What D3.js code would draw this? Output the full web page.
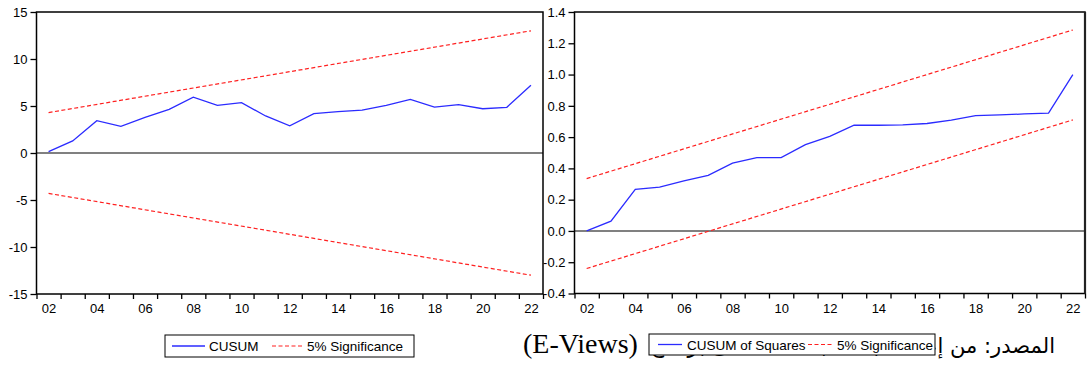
<!DOCTYPE html>
<html><head><meta charset="utf-8">
<script src="https://cdn.jsdelivr.net/npm/d3@7"></script>
<style>
body{margin:0;background:#fff;}
svg{display:block;}
text{font-family:"Liberation Sans",Arial,sans-serif;fill:#000;}
</style></head>
<body>
<svg id="c" width="1089" height="365"></svg>
<script>
const years = d3.range(2002, 2023);
const cusum = [0.15,1.28,3.44,2.84,3.78,4.65,5.93,5.07,5.35,3.94,2.9,4.18,4.4,4.57,5.07,5.71,4.89,5.14,4.71,4.86,7.2];
const cusumUpper = [[2002,4.3],[2022,13.0]];
const cusumLower = [[2002,-4.3],[2022,-13.0]];
const cusumsq = [0.0,0.063,0.266,0.28,0.32,0.356,0.434,0.469,0.469,0.552,0.605,0.676,0.676,0.678,0.687,0.708,0.738,0.742,0.748,0.753,1.0];
const sqUpper = [[2002,0.335],[2022,1.285]];
const sqLower = [[2002,-0.24],[2022,0.71]];
const leftYTicks = [-15,-10,-5,0,5,10,15];
const rightYTicks = [-0.4,-0.2,0.0,0.2,0.4,0.6,0.8,1.0,1.2,1.4];
const xLabelYears = [2002,2004,2006,2008,2010,2012,2014,2016,2018,2020,2022];
const legendLeft = ["CUSUM","5% Significance"];
const legendRight = ["CUSUM of Squares","5% Significance"];
const sourceAr = "المصدر: من إعداد الباحث بالاعتماد على برنامج";
const sourceEn = "(E-Views)";

const svg = d3.select("#c");
const BLUE = "#2b2bff", RED = "#ff2020";

function panel(o){
  const g = svg.append("g");
  const x = d3.scaleLinear().domain([2001.5, 2022.5]).range([o.x0, o.x1]);
  const y = d3.scaleLinear().domain(o.ydom).range([o.y1, o.y0]);
  g.append("line").attr("x1",o.x0).attr("x2",o.x1).attr("y1",y(0)).attr("y2",y(0))
    .attr("stroke","#808080").attr("stroke-width",2);
  const line = d3.line().x(d=>x(d[0])).y(d=>y(d[1]));
  [o.upper,o.lower].forEach(b=>{
    g.append("path").attr("d",line(b)).attr("fill","none").attr("stroke",RED)
      .attr("stroke-width",1.2).attr("stroke-dasharray","4,2.5");
  });
  g.append("path").attr("d",line(years.map((yr,i)=>[yr,o.vals[i]])))
    .attr("fill","none").attr("stroke",BLUE).attr("stroke-width",1.3);
  g.append("rect").attr("x",o.x0).attr("y",o.y0).attr("width",o.x1-o.x0).attr("height",o.y1-o.y0)
    .attr("fill","none").attr("stroke","#000").attr("stroke-width",1.5);
  if(o.thickRight){
    g.append("line").attr("x1",o.x1).attr("x2",o.x1).attr("y1",o.y0).attr("y2",o.y1)
      .attr("stroke","#222").attr("stroke-width",2.2);
  }
  const ya = g.append("g").attr("transform",`translate(${o.x0},0)`)
    .call(d3.axisLeft(y).tickValues(o.yticks).tickSize(6).tickPadding(3).tickFormat(o.fmt));
  ya.select(".domain").remove();
  ya.selectAll("line").attr("stroke","#000").attr("stroke-width",1.3);
  ya.selectAll("text").attr("font-size",13).attr("font-family","Liberation Sans, Arial, sans-serif").attr("fill","#000");
  const xa = g.append("g").attr("transform",`translate(0,${o.y1})`)
    .call(d3.axisBottom(x).tickValues(d3.range(2001.5,2023,1)).tickSize(5).tickFormat(""));
  xa.select(".domain").remove();
  xa.selectAll("line").attr("stroke","#000").attr("stroke-width",1.3);
  const xl = g.append("g").attr("transform",`translate(0,${o.y1})`)
    .call(d3.axisBottom(x).tickValues(xLabelYears).tickSize(0).tickPadding(10)
      .tickFormat(d=>String(d%100).padStart(2,"0")));
  xl.select(".domain").remove();
  xl.selectAll("text").attr("font-size",13).attr("font-family","Liberation Sans, Arial, sans-serif").attr("fill","#000");
}

panel({x0:36.5,x1:543,y0:12,y1:294,ydom:[-15,15],vals:cusum,upper:cusumUpper,lower:cusumLower,
  yticks:leftYTicks,fmt:d=>String(d)});
panel({x0:574.5,x1:1085,y0:12,y1:293.5,ydom:[-0.4,1.4],vals:cusumsq,upper:sqUpper,lower:sqLower,
  yticks:rightYTicks,fmt:d=>d3.format(".1f")(d).replace("−","-"),thickRight:true});

// source text
const ar = svg.append("text").attr("x",1055).attr("y",353).attr("text-anchor","end")
  .style("font-family","'DejaVu Sans',sans-serif").attr("font-size",26).text(sourceAr);
const w = ar.node().getComputedTextLength();
const maxW = 405;
if (w > maxW) ar.attr("font-size", 26*maxW/w);
svg.append("text").attr("x",523).attr("y",353)
  .style("font-family","'Liberation Serif','Times New Roman',serif").attr("font-size",28).text(sourceEn);

function legend(o){
  const g = svg.append("g");
  g.append("rect").attr("x",o.x).attr("y",o.y).attr("width",o.w).attr("height",o.h)
    .attr("fill","#fff").attr("stroke","#000").attr("stroke-width",1);
  const cy = o.y + o.h/2;
  g.append("line").attr("x1",o.l1[0]).attr("x2",o.l1[1]).attr("y1",cy).attr("y2",cy)
    .attr("stroke",BLUE).attr("stroke-width",1.3);
  g.append("text").attr("x",o.t1).attr("y",cy+5).attr("font-size",13.5).text(o.labels[0]);
  g.append("line").attr("x1",o.l2[0]).attr("x2",o.l2[1]).attr("y1",cy).attr("y2",cy)
    .attr("stroke",RED).attr("stroke-width",1.2).attr("stroke-dasharray","4,2.5");
  g.append("text").attr("x",o.t2).attr("y",cy+5).attr("font-size",13.5).text(o.labels[1]);
}
legend({x:165,y:335,w:249,h:22,l1:[172,205],t1:209,l2:[272,302],t2:307,labels:legendLeft});
legend({x:649,y:334,w:286,h:21,l1:[658,682],t1:687,l2:[808,832],t2:837,labels:legendRight});
</script>
</body></html>
